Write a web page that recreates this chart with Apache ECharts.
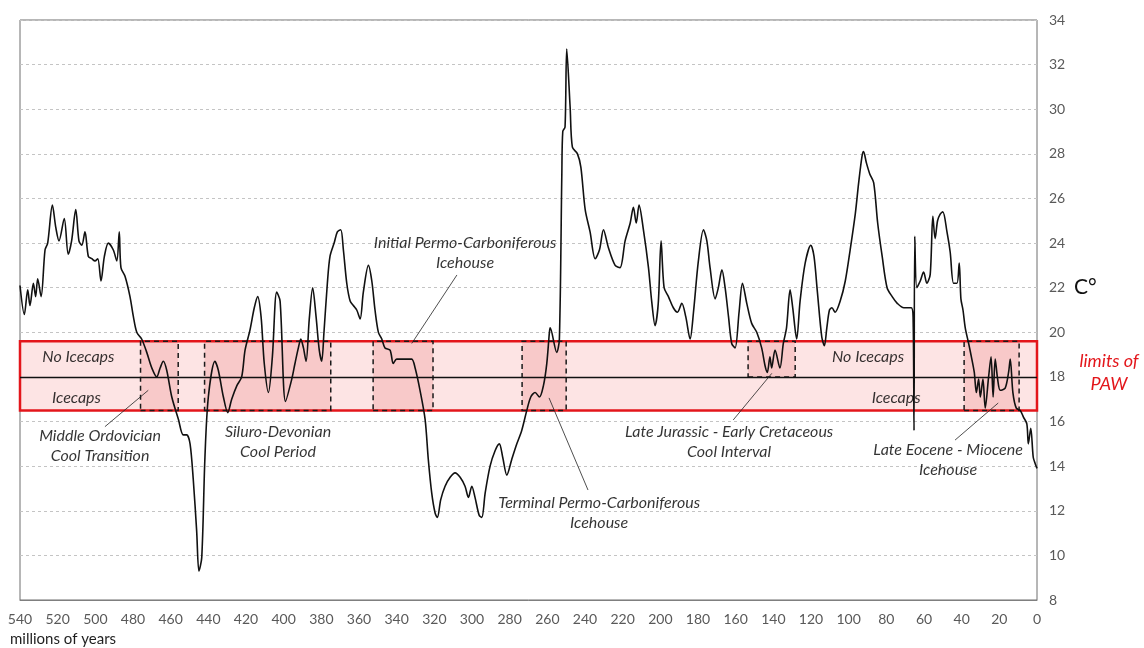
<!DOCTYPE html>
<html>
<head>
<meta charset="utf-8">
<script src="https://cdn.jsdelivr.net/npm/echarts@6/dist/echarts.min.js"></script>
<style>
  html, body { margin: 0; padding: 0; background: #fff; }
  #chart { width: 1144px; height: 648px; }
</style>
</head>
<body>
<div id="chart"></div>
<script>
// temperature curve, [millions of years ago, °C]
var earlyPaleozoic = [
  [540, 22.1], [537.7, 20.8], [535.9, 21.9], [534.7, 21.2], [532.9, 22.2], [531.7, 21.6], [530.6, 22.4],
  [528.8, 21.6], [526.7, 23.7], [525.3, 24.0], [522.8, 25.7], [521, 24.7], [519.3, 24.1], [516.5, 25.1],
  [514.4, 23.5], [512.6, 24.1], [510.4, 25.5], [508.7, 24.1], [507.2, 23.9], [505.5, 24.5], [503.7, 23.4],
  [501.9, 23.3], [500.2, 23.2], [498.7, 23.3], [497, 22.3], [495.2, 23.4], [493.1, 24.0], [490.5, 23.7],
  [488.6, 23.2], [487.3, 24.5], [486.4, 22.9], [484.2, 22.5], [481.6, 21.6], [479.8, 20.7], [478, 20.0],
  [475.4, 19.7], [472.7, 19.1], [470, 18.4], [467.4, 18.0], [465.6, 18.4], [463.9, 18.7], [462.1, 18.3],
  [459.4, 17.1], [455.9, 16.1], [453.3, 15.4], [451.5, 15.4], [449.7, 15.0], [448, 13.4], [446.2, 11.1],
  [445, 9.3], [443.5, 9.9], [441.8, 14.4], [440, 17.1], [436.5, 18.7], [434.7, 18.3], [432, 17.1],
  [429.7, 16.4], [427.6, 17.0], [424.9, 17.6], [422.3, 18.0], [420.5, 19.2], [417.9, 20.1], [415.6, 21.1],
  [413.8, 21.6], [412, 20.7], [410.3, 18.6], [408.1, 17.3], [406, 18.9], [403.7, 21.8], [401.9, 21.4]
];
var latePaleozoic = [
  [399, 16.9], [395.7, 17.9], [394, 18.6], [392.2, 19.3], [390.9, 19.7], [389.5, 19.3], [388.1, 18.7],
  [386.4, 20.6], [384.6, 22.0], [382.8, 20.7], [381.1, 19.2], [379.8, 18.7], [378.6, 20.0], [376.8, 22.2],
  [375.4, 23.4], [373.2, 24.0], [371.5, 24.5], [369.7, 24.6], [368.3, 23.7], [366.5, 22.2], [364.7, 21.4],
  [363, 21.2], [361.2, 21.0], [359.4, 20.6], [357.7, 21.8], [355, 23.0], [353.2, 22.3], [351.5, 21.0],
  [349.7, 20.0], [347.9, 19.7], [346.2, 19.3], [343.5, 19.2], [341.8, 18.6], [340, 18.8], [337.3, 18.8],
  [334.6, 18.8], [332, 18.8], [330.2, 18.4], [327.6, 17.4], [324.9, 16.1], [323.2, 14.3], [321.4, 12.8],
  [319.6, 11.9], [318.4, 11.7], [316.6, 12.5], [314.3, 13.1], [311.6, 13.5], [309, 13.7], [306.3, 13.5],
  [303.7, 13.1], [301.9, 12.6], [300.1, 13.1], [298.4, 12.6], [296.2, 11.8], [294.8, 11.7], [293, 12.8],
  [290.4, 14.0], [287.7, 14.7], [285.5, 15.0], [283.7, 14.4], [281.5, 13.6], [278.9, 14.3], [276.2, 15.0],
  [273.6, 15.6], [270.9, 16.5], [268.8, 17.1], [266.5, 17.3], [264.2, 17.1], [262.1, 17.6], [260.3, 18.6],
  [258.9, 20.0], [258.5, 20.2]
];
var mesozoic = [
  [255, 19.1], [253.6, 19.7], [252.3, 27.1], [251.8, 29.0], [250.6, 29.2], [249.7, 32.7], [247.9, 30.1],
  [246.7, 28.3], [244, 28.0], [242.2, 27.4], [239.9, 25.5], [237.3, 24.5], [234.6, 23.3], [232.3, 23.7],
  [230.2, 24.6], [227.6, 23.8], [224, 23.0], [221.4, 22.9], [218.7, 24.1], [216, 24.9], [214.3, 25.6],
  [212.8, 24.9], [211.3, 25.7], [209, 24.6], [206.3, 22.9], [204.6, 21.4], [202.8, 20.3], [201.1, 21.3],
  [199.6, 24.1], [198, 22.0], [195.7, 21.6], [193.1, 21.1], [190.9, 20.9], [188.6, 21.3], [186.5, 20.7],
  [184.2, 19.7], [182.4, 20.9], [179.8, 23.2], [177.1, 24.6], [175.3, 24.1], [173.6, 22.9], [170.9, 21.5],
  [169.2, 22.0], [167.3, 22.8], [165.6, 22.0], [163.8, 20.7], [162.1, 19.5], [160.3, 19.3], [158.2, 20.9],
  [156.4, 22.2], [154.1, 21.3], [151.5, 20.4], [148.8, 20.0], [146.2, 19.3], [144.4, 18.5], [143.2, 18.2],
  [141.8, 18.9], [140.9, 18.4], [139.1, 19.2], [136.5, 18.4], [134.7, 19.5], [133, 20.2], [131.1, 21.9],
  [129.7, 21.1], [127.6, 19.7], [125.8, 21.4], [123.1, 23.1], [120.1, 23.9], [118.4, 23.4], [116.6, 21.8],
  [114.3, 19.8], [112.9, 19.4], [111.6, 20.2], [110.2, 21.0], [108.9, 21.1], [107.2, 20.9], [104.5, 21.4],
  [101.8, 22.3], [99.2, 23.7], [96.5, 25.3], [94.7, 26.7], [92.9, 27.9], [92.1, 28.1], [90.6, 27.6],
  [88.8, 27.1], [86.7, 26.7], [84.6, 24.9], [82.2, 23.4], [79.6, 22.0], [76.9, 21.6], [74.2, 21.3],
  [70.7, 21.1], [66.8, 21.1], [65.8, 20.7]
];
var cenozoic = [
  [65.3, 15.6], [64.9, 24.3], [63.8, 22.0], [62, 22.3], [60.2, 22.7], [58.5, 22.2], [56.7, 22.6],
  [55.3, 25.2], [54.1, 24.2], [52.8, 25.0], [51.4, 25.3], [50, 25.4], [47.8, 24.5], [46.1, 23.6],
  [44.3, 22.2], [42.5, 22.2], [41.3, 23.1], [40.4, 21.5], [39.3, 21.0], [38.1, 20.2], [36.3, 19.5],
  [34.6, 18.8], [33.3, 18.2], [32.2, 17.3], [31, 17.9], [30.1, 17.1], [28.7, 17.9], [27.5, 16.6],
  [25.7, 18.0], [24.4, 18.9], [23.3, 17.1], [22.2, 18.8], [20.9, 17.9], [19.5, 17.4], [16.9, 17.5],
  [15.1, 18.2], [14.2, 18.8], [12.8, 17.3], [11, 16.6], [8.9, 16.5], [7.2, 16.2], [5.4, 15.9],
  [4.6, 15.0], [3.3, 15.7], [2, 14.4], [0.9, 14.1], [0, 13.9]
];

// limits of PAW and the icecaps boundary
var pawLow = 16.5, pawHigh = 19.6, icecapLine = 18;
// cool intervals: [from age, to age, bottom °C]
var coolIntervals = [
  [476, 456, 16.5], [442, 375, 16.5], [352.5, 320.7, 16.5],
  [273.4, 250, 16.5], [153.4, 128.4, 18], [38.7, 9.5, 16.5]
];
// annotation texts and their anchor [age, °C]
var notes = [
  ['No Icecaps', 509, 18.9], ['Icecaps', 510, 17.06],
  ['Middle Ordovician\nCool Transition', 497.5, 14.9],
  ['Siluro-Devonian\nCool Period', 403, 15.1],
  ['Initial Permo-Carboniferous\nIcehouse', 303.7, 23.56],
  ['Terminal Permo-Carboniferous\nIcehouse', 232.5, 11.9],
  ['Late Jurassic - Early Cretaceous\nCool Interval', 163.5, 15.1],
  ['No Icecaps', 89.7, 18.9], ['Icecaps', 74.8, 17.06],
  ['Late Eocene - Miocene\nIcehouse', 47.2, 14.28]
];
// leader lines [[age, °C], [age, °C]]
var leaders = [
  [[494.9, 15.77], [471.9, 17.4]],
  [[308, 22.57], [332, 19.5]],
  [[259.1, 17.06], [238.4, 12.93]],
  [[140.8, 18.16], [161.3, 16.07]],
  [[20.6, 16.83], [43.5, 15.17]]
];
var xTicks = { min: 0, max: 540, interval: 20 };
var yTicks = { min: 8, max: 34, interval: 2 };

var curve = earlyPaleozoic.concat(latePaleozoic, mesozoic, cenozoic);
var FONT = 'Lato, "Open Sans", sans-serif';

var myChart = echarts.init(document.getElementById('chart'));

var bandFill = [[{ xAxis: 540, yAxis: pawLow, itemStyle: { color: '#fde4e4' } }, { xAxis: 0, yAxis: pawHigh }]];
coolIntervals.forEach(function (c) {
  bandFill.push([{ xAxis: c[0], yAxis: c[2], itemStyle: { color: '#f8c9c9' } }, { xAxis: c[1], yAxis: pawHigh }]);
});
var boxOutlines = coolIntervals.map(function (c) {
  return [{ xAxis: c[0], yAxis: c[2] }, { xAxis: c[1], yAxis: pawHigh }];
});
var lineMarks = [{ yAxis: icecapLine, lineStyle: { color: '#111', width: 1.4, type: 'solid' } }];
leaders.forEach(function (l) {
  lineMarks.push([{ coord: l[0] }, { coord: l[1] }]);
});

var option = {
  animation: false,
  grid: { left: 20, right: 107, top: 20, bottom: 48, show: true, borderColor: '#6f6f6f', borderWidth: 1 },
  xAxis: {
    type: 'value', min: xTicks.min, max: xTicks.max, interval: xTicks.interval, inverse: true,
    axisLine: { show: true, lineStyle: { color: '#7f7f7f' } },
    axisTick: { show: false },
    axisLabel: { color: '#595959', fontSize: 14, margin: 12, fontFamily: FONT },
    splitLine: { show: false }
  },
  yAxis: {
    type: 'value', position: 'right', min: yTicks.min, max: yTicks.max, interval: yTicks.interval,
    axisLine: { show: false }, axisTick: { show: false },
    axisLabel: { color: '#595959', fontSize: 14, margin: 12, fontFamily: FONT },
    splitLine: { lineStyle: { color: '#c4c4c4', type: [3, 3], width: 1 } }
  },
  series: [
    {
      type: 'line', data: [], z: 1, silent: true,
      markArea: { silent: true, z: 1, data: bandFill }
    },
    {
      type: 'line', data: [], z: 2, silent: true,
      markArea: {
        silent: true, z: 2,
        itemStyle: { color: 'rgba(0,0,0,0)', borderColor: '#e3161b', borderWidth: 2.5 },
        data: [[{ xAxis: 540, yAxis: pawLow }, { xAxis: 0, yAxis: pawHigh }]]
      }
    },
    {
      type: 'line', data: [], z: 3, silent: true,
      markArea: {
        silent: true, z: 3,
        itemStyle: { color: 'rgba(0,0,0,0)', borderColor: '#1a1a1a', borderWidth: 1.5, borderType: [5, 4] },
        data: boxOutlines
      }
    },
    {
      type: 'line', data: [], z: 4, silent: true,
      markLine: {
        silent: true, z: 4, symbol: ['none', 'none'], label: { show: false },
        lineStyle: { color: '#222', width: 0.8, type: 'solid' },
        data: lineMarks
      }
    },
    {
      name: 'temperature', type: 'line', data: curve, z: 10,
      showSymbol: false, smooth: 0.3,
      lineStyle: { color: '#111', width: 1.6 }
    },
    {
      type: 'scatter', z: 11, symbolSize: 1, silent: true,
      itemStyle: { color: 'rgba(0,0,0,0)' },
      label: {
        show: true, position: 'inside', formatter: '{b}', color: '#000',
        fontSize: 16, lineHeight: 20, fontStyle: 'italic', fontFamily: FONT
      },
      data: notes.map(function (n) { return { name: n[0], value: [n[1], n[2]] }; })
    }
  ],
  graphic: [
    { type: 'text', left: 10, top: 632, style: { text: 'millions of years', fill: '#1f1f1f', font: '15px ' + FONT } },
    { type: 'text', left: 1074, top: 277, style: { text: 'C°', fill: '#111', font: '21px ' + FONT } },
    {
      type: 'text', x: 1109, y: 373,
      style: {
        text: 'limits of\nPAW', fill: '#e3161b', font: 'italic 18px ' + FONT,
        align: 'center', verticalAlign: 'middle', lineHeight: 23
      }
    }
  ]
};

myChart.setOption(option);
</script>
</body>
</html>
